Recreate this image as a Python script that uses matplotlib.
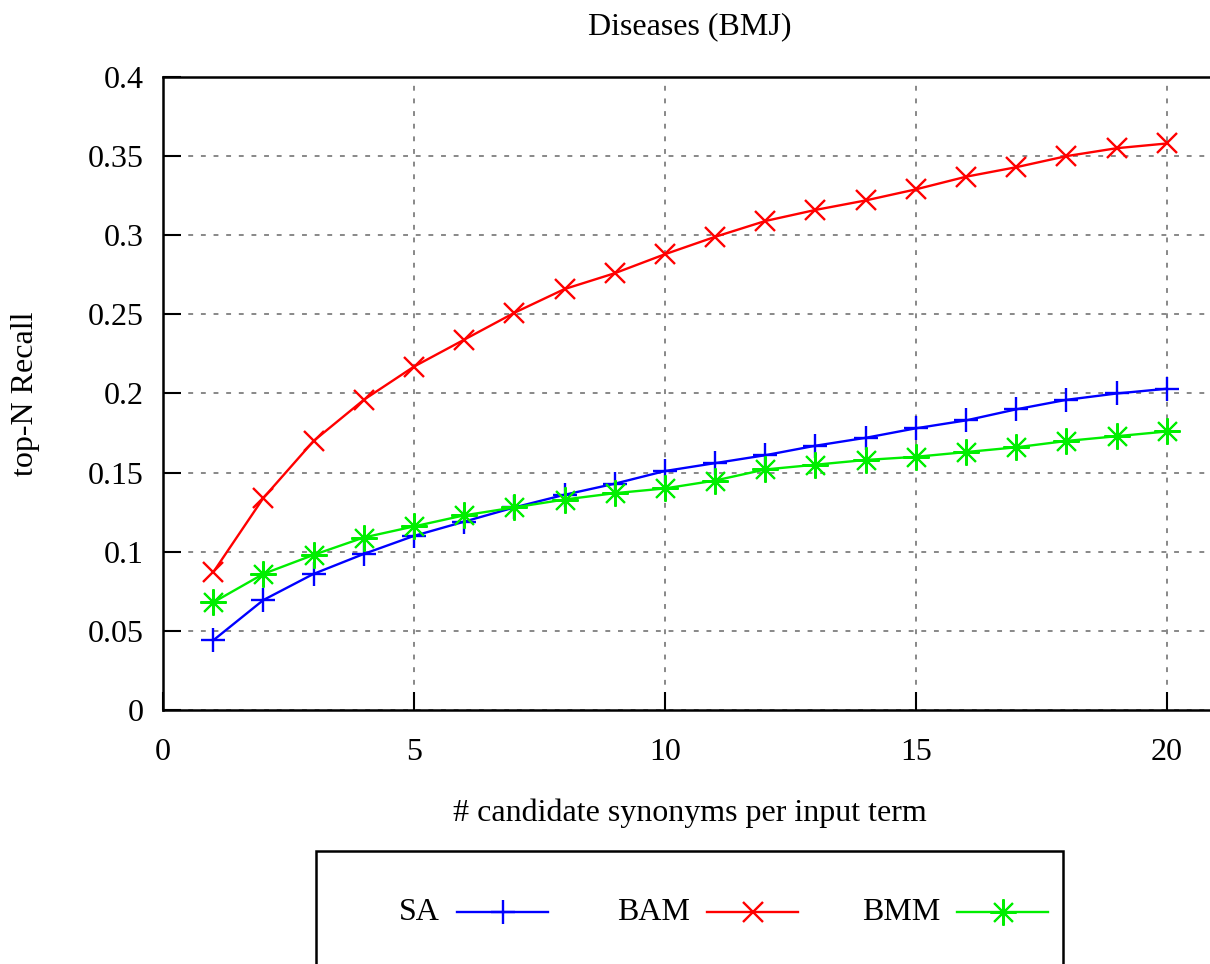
import matplotlib
matplotlib.use('Agg')
import matplotlib.pyplot as plt
from matplotlib.lines import Line2D
from matplotlib.patches import Rectangle

plt.rcParams['font.family'] = ['Liberation Serif', 'DejaVu Serif']

# number of candidate synonyms per input term
n_candidates = list(range(1, 21))

recall_sa = [0.044, 0.0695, 0.086, 0.0986, 0.110, 0.119, 0.128, 0.136, 0.143, 0.151,
             0.156, 0.161, 0.167, 0.172, 0.178, 0.183, 0.190, 0.196, 0.200, 0.203]
recall_bam = [0.087, 0.134, 0.170, 0.196, 0.217, 0.234, 0.251, 0.266, 0.276, 0.288,
              0.299, 0.309, 0.316, 0.322, 0.329, 0.337, 0.343, 0.350, 0.355, 0.358]
recall_bmm = [0.068, 0.086, 0.098, 0.109, 0.116, 0.123, 0.128, 0.133, 0.137, 0.140,
              0.145, 0.152, 0.155, 0.158, 0.160, 0.163, 0.166, 0.170, 0.173, 0.176]

series_names = ['SA', 'BAM', 'BMM']
x_ticks = [0, 5, 10, 15, 20]
y_ticks = [0, 0.05, 0.1, 0.15, 0.2, 0.25, 0.3, 0.35, 0.4]
y_tick_labels = ['0', '0.05', '0.1', '0.15', '0.2', '0.25', '0.3', '0.35', '0.4']

W, H = 1210, 964
FS = 23
fig = plt.figure(figsize=(W / 100, H / 100), dpi=100)
ax = fig.add_axes([163 / W, (H - 710) / H, 1054 / W, 633 / H])

styles = [
    dict(color='#0000ff', marker='+', ms=17, mew=1.7),
    dict(color='#ff0000', marker='x', ms=15, mew=1.7),
    dict(color='#00ee00', marker=(8, 2, 0), ms=19, mew=1.5),
]
all_series = [recall_sa, recall_bam, recall_bmm]

for vals, st in zip(all_series, styles):
    ax.plot(n_candidates, vals, lw=1.7, **st)

ax.set_xlim(0, 21)
ax.set_ylim(0, 0.4)
ax.set_xticks(x_ticks)
ax.set_xticklabels([str(t) for t in x_ticks])
ax.set_yticks(y_ticks)
ax.set_yticklabels(y_tick_labels)
ax.tick_params(direction='in', length=13, width=1.5, labelsize=FS)
ax.tick_params(axis='x', pad=20.5)
ax.tick_params(axis='y', pad=14)
ax.grid(True, color='#888888', linestyle=(0, (2.5, 4)), linewidth=1.4)
ax.set_axisbelow(True)
for sp in ax.spines.values():
    sp.set_linewidth(1.8)

ax.set_title('Diseases (BMJ)', fontsize=FS, pad=31)
ax.set_xlabel('# candidate synonyms per input term', fontsize=FS, labelpad=22)
ax.set_ylabel('top-N Recall', fontsize=FS, va='center')
ax.yaxis.set_label_coords((25 - 163) / 1054, 0.5)

# key box below the plot, drawn in figure pixels
def fx(px):
    return px / W

def fy(py):
    return (H - py) / H

box = Rectangle((fx(316), fy(980)), fx(1063) - fx(316), fy(851) - fy(980),
                transform=fig.transFigure, fill=False, edgecolor='black',
                linewidth=1.8, clip_on=False)
fig.add_artist(box)

key_y = 912
text_right = [440, 690, 940]
for name, st, tx in zip(series_names, styles, text_right):
    fig.text(fx(tx), fy(key_y), name, fontsize=FS, ha='right', va='center')
    x0, x1 = tx + 17, tx + 108
    fig.add_artist(Line2D([fx(x0), fx(x1)], [fy(key_y), fy(key_y)],
                          transform=fig.transFigure, color=st['color'], lw=1.7))
    fig.add_artist(Line2D([fx((x0 + x1) / 2)], [fy(key_y)],
                          transform=fig.transFigure, linestyle='none', **st))

fig.savefig('out.png', dpi=100)
